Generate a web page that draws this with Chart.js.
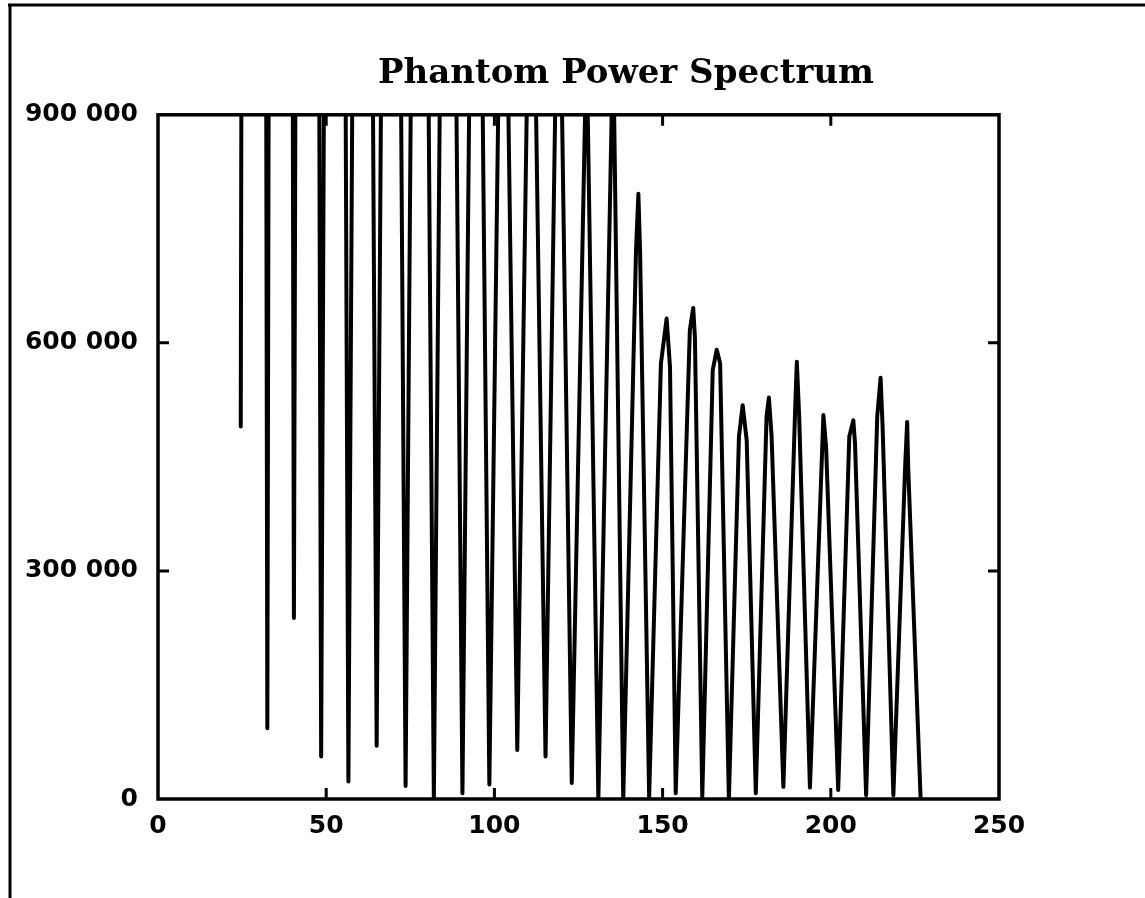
<!DOCTYPE html>
<html>
<head>
<meta charset="utf-8">
<title>Phantom Power Spectrum</title>
<script src="https://cdn.jsdelivr.net/npm/chart.js@4.4.1/dist/chart.umd.min.js"></script>
<style>
  html, body { margin: 0; padding: 0; background: #fff; }
  #wrap { position: relative; width: 1145px; height: 898px; }
  canvas { display: block; }
</style>
</head>
<body>
<div id="wrap"><canvas id="spectrum" width="1145" height="898"></canvas></div>
<script>
// Spatial frequency of each vertex of the spectrum trace
const freq = [
  24.6, 28.6, 32.5, 36.4, 40.4, 44.4, 48.5, 52.6, 56.6, 60.8,
  65.0, 69.3, 73.6, 77.8, 82.0, 86.2, 90.5, 94.5, 98.5, 102.6,
  106.8, 111.0, 115.2, 119.1, 123.0, 127.4, 130.9, 135.3, 138.3,
  142.1, 142.8, 143.3, 146.0,
  149.5, 151.2, 152.2, 153.9,
  158.1, 159.1, 159.6, 161.8,
  164.9, 166.1, 167.1, 169.7,
  172.7, 173.8, 175.0, 177.7,
  180.9, 181.6, 182.4, 185.9,
  189.4, 189.9, 190.6, 193.8,
  197.5, 197.8, 198.6, 202.2,
  205.5, 206.7, 207.2, 210.5,
  213.8, 214.8, 215.4, 218.6,
  222.1, 222.7, 223.0, 226.7
];

// Power at each vertex (the low-frequency peaks run far past the plotted range)
const power = [
  490000, 10000000, 93000, 8500000, 238000, 6400000, 56000, 4400000, 23000, 3300000,
  70000, 2900000, 17000, 2470000, 0, 2180000, 7500, 1810000, 19000, 1400000,
  64500, 1320000, 56000, 1210000, 21000, 1000000, 0, 1000000, 0,
  722000, 796000, 722000, 2600,
  573000, 632000, 568000, 7500,
  617000, 646000, 608000, 3000,
  564000, 591000, 573000, 0,
  477000, 518000, 472000, 7500,
  503000, 528000, 477000, 16000,
  512000, 575000, 503000, 15000,
  468000, 505000, 463000, 12000,
  477000, 498000, 468000, 5000,
  503000, 554000, 490000, 5000,
  437000, 496000, 437000, 0
];

const xTicks = [0, 50, 100, 150, 200, 250];
const yTicks = [0, 300000, 600000, 900000];

const titleText = 'Phantom Power Spectrum';

function spaced(v) {
  // thousands grouped with a space: 900 000
  return String(v).replace(/\B(?=(\d{3})+(?!\d))/g, ' ');
}

// Plot frame with inward tick marks on all four sides, plus the page rule lines
const framePlugin = {
  id: 'frame',
  afterDatasetsDraw(chart) {
    const { ctx, chartArea: a, scales } = chart;
    const tick = 11;
    ctx.save();
    ctx.strokeStyle = '#000';
    ctx.lineCap = 'butt';
    ctx.lineWidth = 3.5;
    ctx.strokeRect(a.left, a.top, a.right - a.left, a.bottom - a.top);
    ctx.lineWidth = 3;
    ctx.beginPath();
    xTicks.slice(1, -1).forEach(v => {
      const px = scales.x.getPixelForValue(v);
      ctx.moveTo(px, a.bottom); ctx.lineTo(px, a.bottom - tick);
      ctx.moveTo(px, a.top); ctx.lineTo(px, a.top + tick);
    });
    yTicks.slice(1, -1).forEach(v => {
      const py = scales.y.getPixelForValue(v);
      ctx.moveTo(a.left, py); ctx.lineTo(a.left + tick, py);
      ctx.moveTo(a.right, py); ctx.lineTo(a.right - tick, py);
    });
    ctx.stroke();
    // page border lines (top and left edge)
    ctx.lineWidth = 3;
    ctx.beginPath();
    ctx.moveTo(8, 5); ctx.lineTo(1145, 5);
    ctx.moveTo(10, 4); ctx.lineTo(10, 898);
    ctx.stroke();
    ctx.restore();
  }
};

const tickFont = { family: 'DejaVu Sans', size: 25, weight: 'bold' };

new Chart(document.getElementById('spectrum'), {
  type: 'line',
  data: {
    datasets: [{
      data: freq.map((f, i) => ({ x: f, y: power[i] })),
      yAxisID: 'y',
      borderColor: '#000',
      borderWidth: 4,
      borderJoinStyle: 'round',
      borderCapStyle: 'round',
      pointRadius: 0,
      tension: 0,
      fill: false,
      clip: 1
    }]
  },
  options: {
    responsive: false,
    animation: false,
    // the title box is widened past the right edge so its centre sits over x = 626
    layout: { padding: { left: 0, right: -107, top: 0, bottom: 0 } },
    plugins: {
      legend: { display: false },
      tooltip: { enabled: false },
      title: {
        display: true,
        text: titleText,
        color: '#000',
        font: { family: 'DejaVu Serif', size: 34, weight: 'bold', lineHeight: 1.2 },
        padding: { top: 54, bottom: 20 }
      }
    },
    scales: {
      x: {
        type: 'linear',
        min: 0,
        max: 250,
        afterBuildTicks(scale) { scale.ticks = xTicks.map(v => ({ value: v })); },
        afterFit(scale) { scale.height = 99; },
        grid: { display: false, drawTicks: false },
        border: { display: false },
        ticks: { color: '#000', font: tickFont, padding: 12, maxRotation: 0 }
      },
      y: {
        type: 'linear',
        position: 'left',
        min: 0,
        max: 900000,
        afterBuildTicks(scale) { scale.ticks = yTicks.map(v => ({ value: v })); },
        afterFit(scale) { scale.width = 158; },
        grid: { display: false, drawTicks: false },
        border: { display: false },
        ticks: { color: '#000', font: tickFont, padding: 20, callback: v => spaced(v) }
      },
      // empty margin to the right of the plot frame
      margin: {
        type: 'linear',
        position: 'right',
        min: 0,
        max: 1,
        afterFit(scale) { scale.width = 253; },
        grid: { display: false, drawTicks: false },
        border: { display: false },
        ticks: { display: false }
      }
    }
  },
  plugins: [framePlugin]
});
</script>
</body>
</html>
